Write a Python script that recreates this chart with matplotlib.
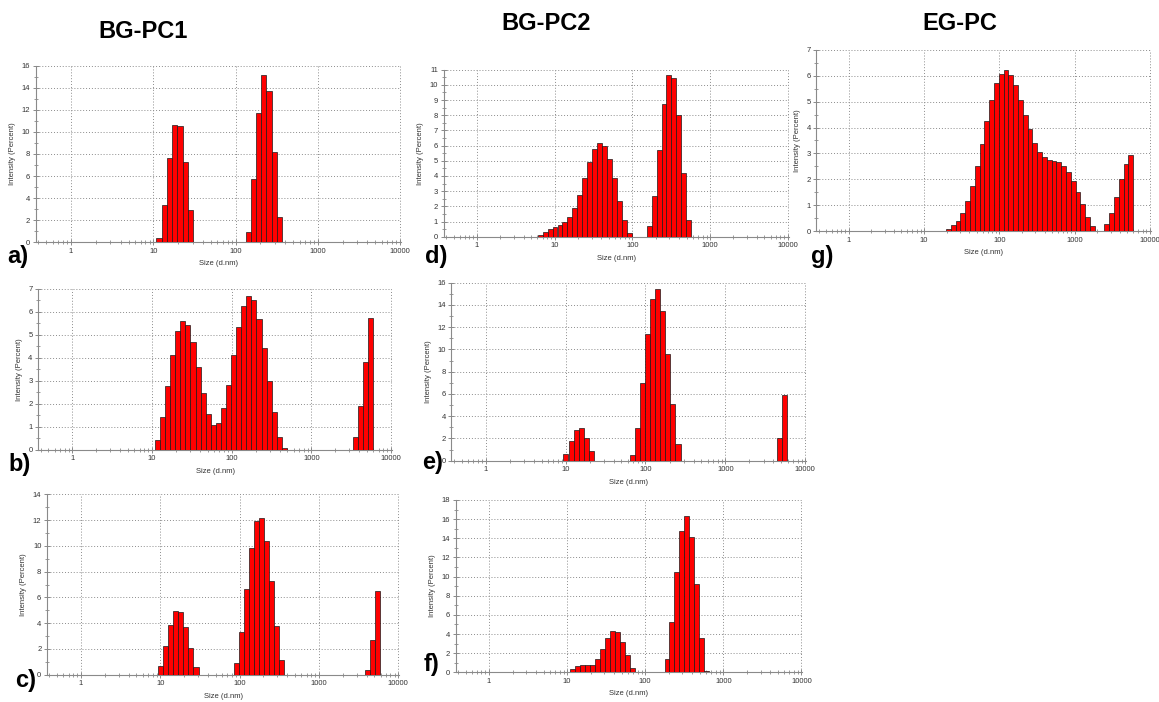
import matplotlib.pyplot as plt
import numpy as np
from matplotlib.ticker import FixedLocator, NullFormatter

plt.rcParams['font.family'] = ['Liberation Sans', 'DejaVu Sans']

W, H = 1159, 702

# Zetasizer size classes (d.nm), bar centres
size_classes = [0.4000, 0.4632, 0.5365, 0.6213, 0.7195, 0.8332, 0.9649, 1.117, 1.294, 1.499,
                1.736, 2.010, 2.328, 2.696, 3.122, 3.615, 4.187, 4.849, 5.615, 6.503,
                7.531, 8.721, 10.10, 11.70, 13.54, 15.69, 18.17, 21.04, 24.36, 28.21,
                32.67, 37.84, 43.82, 50.75, 58.77, 68.06, 78.82, 91.28, 105.7, 122.4,
                141.8, 164.2, 190.1, 220.2, 255.0, 295.3, 342.0, 396.1, 458.7, 531.2,
                615.1, 712.4, 825.0, 955.4, 1106, 1281, 1484, 1718, 1990, 2305,
                2669, 3091, 3580, 4145, 4801, 5560, 6439, 7456, 8635, 10000]


def span(lo, hi):
    i, j = size_classes.index(lo), size_classes.index(hi)
    return size_classes[i:j + 1]


# BG-PC1
a_sizes = span(11.70, 28.21) + span(141.8, 342.0)
a_vals = [0.36, 3.4, 7.6, 10.6, 10.55, 7.3, 2.9,
          0.95, 5.7, 11.75, 15.15, 13.7, 8.2, 2.3]

b_sizes = span(11.70, 458.7) + span(3580, 5560)
b_vals = [0.42, 1.42, 2.75, 4.1, 5.14, 5.58, 5.42, 4.67, 3.6, 2.48, 1.57, 1.09, 1.16,
          1.8, 2.83, 4.1, 5.32, 6.23, 6.67, 6.49, 5.7, 4.43, 3.0, 1.62, 0.57, 0.06,
          0.54, 1.91, 3.83, 5.72]

c_sizes = span(10.10, 28.21) + span(91.28, 342.0) + span(4145, 5560)
c_vals = [0.67, 2.2, 3.86, 4.94, 4.87, 3.73, 2.07, 0.62,
          0.93, 3.34, 6.63, 9.86, 11.9, 12.14, 10.4, 7.3, 3.8, 1.14,
          0.39, 2.69, 6.52]

# BG-PC2
d_sizes = span(6.503, 91.28) + span(164.2, 531.2)
d_vals = [0.11, 0.31, 0.5, 0.66, 0.75, 0.97, 1.3, 1.89, 2.77, 3.85, 4.92, 5.76, 6.18,
          5.98, 5.14, 3.85, 2.37, 1.12, 0.26,
          0.73, 2.68, 5.69, 8.73, 10.66, 10.48, 8.02, 4.22, 1.08]

e_sizes = span(10.10, 21.04) + span(68.06, 255.0) + span(4801, 5560)
e_vals = [0.6, 1.8, 2.78, 2.93, 2.07, 0.87,
          0.51, 2.93, 7.0, 11.38, 14.52, 15.39, 13.44, 9.58, 5.09, 1.53,
          2.0, 5.9]

f_sizes = span(11.70, 68.06) + span(190.1, 615.1)
f_vals = [0.35, 0.63, 0.8, 0.73, 0.8, 1.36, 2.4, 3.62, 4.36, 4.25, 3.2, 1.78, 0.49,
          1.39, 5.3, 10.45, 14.8, 16.34, 14.18, 9.2, 3.62, 0.1]

# EG-PC
g_sizes = span(21.04, 1718) + span(2669, 5560)
g_vals = [0.09, 0.23, 0.41, 0.72, 1.17, 1.76, 2.5, 3.36, 4.24, 5.06, 5.71, 6.08, 6.23,
          6.02, 5.65, 5.08, 4.5, 3.93, 3.41, 3.06, 2.85, 2.75, 2.71, 2.66, 2.53, 2.3,
          1.95, 1.51, 1.04, 0.56, 0.2,
          0.27, 0.69, 1.34, 2.02, 2.61, 2.95]

x_ticks = [1, 10, 100, 1000, 10000]
x_ticklabels = ['1', '10', '100', '1000', '10000']

# half a size class as a ratio (bars are centred on the class size)
half = 10 ** (np.log10(10000 / 0.4) / 69 / 2)

fig = plt.figure(figsize=(W / 100, H / 100), dpi=100)


def panel(sizes, vals, box, ymax, ystep, letter, letter_xy):
    left, right, bottom, top = box
    ax = fig.add_axes([left / W, 1 - bottom / H, (right - left) / W, (bottom - top) / H])
    s = np.array(sizes)
    lo = s / half
    ax.bar(lo, vals, width=s * half - lo, align='edge', color='#ff0000',
           edgecolor='#1a1a1a', linewidth=0.5, zorder=3)
    ax.set_xscale('log')
    ax.set_xlim(0.372, 10300)
    ax.set_ylim(0, ymax)
    ax.set_xticks(x_ticks)
    ax.set_xticklabels(x_ticklabels)
    minors = [m * 10.0 ** e for e in range(-1, 4) for m in range(2, 10)]
    ax.xaxis.set_minor_locator(FixedLocator([v for v in minors if 0.372 < v < 10000]))
    ax.xaxis.set_minor_formatter(NullFormatter())
    ax.set_yticks(np.arange(0, ymax + 0.01, ystep))
    ax.yaxis.set_minor_locator(FixedLocator(np.arange(ystep / 2, ymax, ystep)))
    ax.grid(which='major', linestyle=(0, (1, 2)), color='#8c8c8c', linewidth=0.7, zorder=0)
    for sp in ['top', 'right']:
        ax.spines[sp].set_visible(False)
    for sp in ['left', 'bottom']:
        ax.spines[sp].set_color('#8a8a8a')
        ax.spines[sp].set_linewidth(0.8)
    ax.tick_params(which='major', direction='inout', length=4, width=0.7,
                   color='#8a8a8a', labelsize=5.5, labelcolor='#333333', pad=2)
    ax.tick_params(which='minor', direction='inout', length=3, width=0.6, color='#8a8a8a')
    ax.set_xlabel('Size (d.nm)', fontsize=5.5, color='#333333', labelpad=4)
    ax.set_ylabel('Intensity (Percent)', fontsize=5.5, color='#333333', labelpad=4)
    fig.text(letter_xy[0] / W, 1 - letter_xy[1] / H, letter, fontsize=17,
             fontweight='bold', ha='center', va='center')
    return ax


panel(a_sizes, a_vals, (35.7, 401.3, 242.3, 65.7), 16, 2, 'a)', (18, 256))
panel(b_sizes, b_vals, (38.1, 392.1, 449.7, 288.7), 7, 1, 'b)', (20, 464))
panel(c_sizes, c_vals, (46.9, 399.2, 674.7, 494.3), 14, 2, 'c)', (26, 680))
panel(d_sizes, d_vals, (443.6, 788.8, 236.7, 69.7), 11, 1, 'd)', (436, 256))
panel(e_sizes, e_vals, (451.4, 806.3, 460.7, 282.7), 16, 2, 'e)', (433, 463))
panel(f_sizes, f_vals, (455.5, 802.4, 672.3, 500.0), 18, 2, 'f)', (431, 664))
panel(g_sizes, g_vals, (816.4, 1150.9, 231.3, 49.7), 7, 1, 'g)', (822, 257))

for title, (tx, ty) in [('BG-PC1', (143, 32)), ('BG-PC2', (546, 24)), ('EG-PC', (960, 24))]:
    fig.text(tx / W, 1 - ty / H, title, fontsize=17, fontweight='bold',
             ha='center', va='center')

fig.savefig('out.png', dpi=100)
